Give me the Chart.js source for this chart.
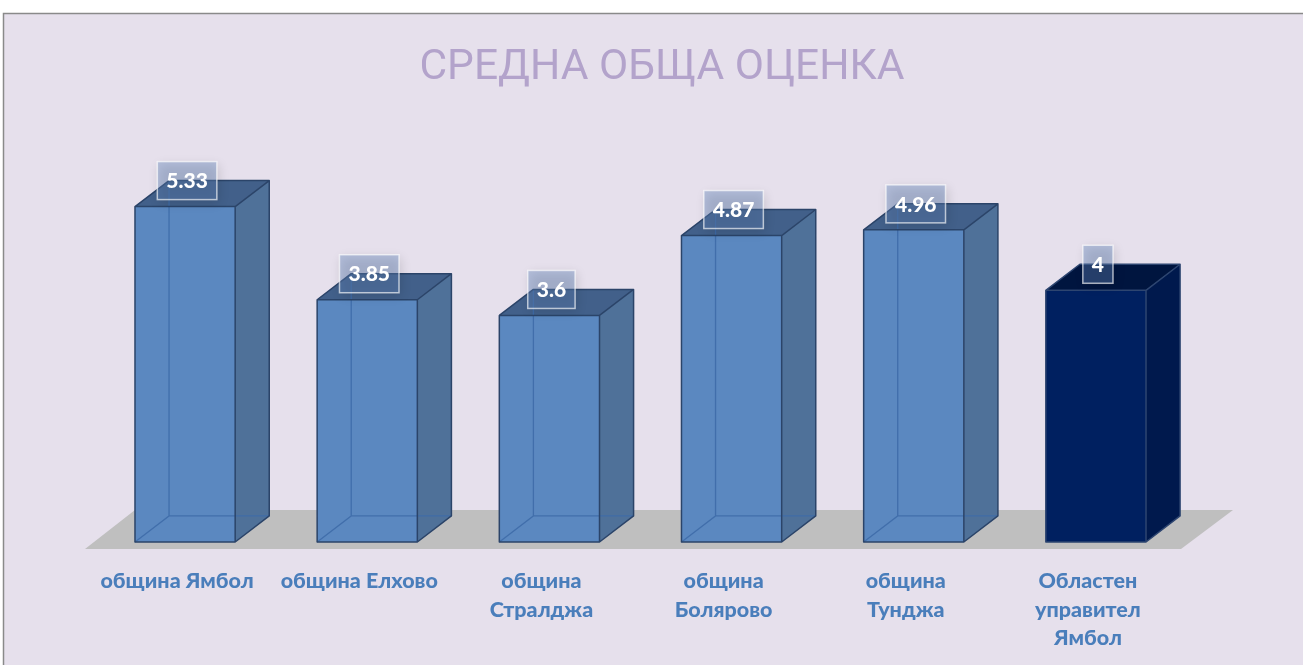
<!DOCTYPE html>
<html><head><meta charset="utf-8">
<script src="https://cdn.jsdelivr.net/npm/chart.js@4.4.1/dist/chart.umd.min.js"></script>
<style>html,body{margin:0;padding:0;background:#fff;overflow:hidden}</style>
</head><body><canvas id="c" width="1303" height="665"></canvas>
<script>
// ---- data ----
const categories = ["община Ямбол", "община Елхово", "община Стралджа", "община Болярово", "община Тунджа", "Областен управител Ямбол"];
const tickLabels = [["община Ямбол"], ["община Елхово"], ["община", "Стралджа"], ["община", "Болярово"], ["община", "Тунджа"], ["Областен", "управител", "Ямбол"]];
const values = [5.33, 3.85, 3.6, 4.87, 4.96, 4];
const valueLabels = ["5.33", "3.85", "3.6", "4.87", "4.96", "4"];
const titleText = "СРЕДНА ОБЩА ОЦЕНКА";

// ---- styles ----
const STD = {front: '#5B88C0', side: '#4F7199', top: '#42608A', edge: '#2B4469', hidden: 'rgba(62,108,168,0.9)'};
const HI  = {front: '#002060', side: '#00194D', top: '#00153F', edge: '#2D4570', hidden: null};
const HIGHLIGHT_INDEX = values.length - 1;
const style = i => i === HIGHLIGHT_INDEX ? HI : STD;

const bgPlugin = {
  id: 'bg',
  beforeDraw(chart) {
    const c = chart.ctx;
    c.save();
    c.fillStyle = '#ffffff';
    c.fillRect(0, 0, chart.width, chart.height);
    c.fillStyle = '#E6E0EC';
    c.fillRect(3, 13, chart.width - 3, chart.height - 13);
    c.strokeStyle = '#8A8A8A';
    c.lineWidth = 1.5;
    c.beginPath();
    c.moveTo(3.5, chart.height); c.lineTo(3.5, 13.5); c.lineTo(chart.width, 13.5);
    c.stroke();
    c.restore();
  },
  beforeDatasetsDraw(chart) {
    const c = chart.ctx, a = chart.chartArea;
    const base = chart.scales.y.getPixelForValue(0);
    c.save();
    c.fillStyle = '#BFBFBF';
    c.beginPath();
    c.moveTo(a.left - 9, base + 7);
    c.lineTo(a.right - 6, base + 7);
    c.lineTo(a.right + 46, base - 32);
    c.lineTo(a.left + 41, base - 32);
    c.closePath();
    c.fill();
    c.restore();
  }
};

const bar3d = {
  id: 'bar3d',
  afterDatasetsDraw(chart) {
    const c = chart.ctx;
    const meta = chart.getDatasetMeta(0);
    meta.data.forEach((bar, i) => {
      const {x, y, base, width} = bar.getProps(['x', 'y', 'base', 'width'], true);
      const s = style(i);
      const x0 = x - width / 2, x1 = x + width / 2;
      const dx = width * 0.34, dy = -width * 0.26;
      c.save();
      c.fillStyle = s.side;
      c.beginPath();
      c.moveTo(x1, base); c.lineTo(x1 + dx, base + dy); c.lineTo(x1 + dx, y + dy); c.lineTo(x1, y);
      c.closePath(); c.fill();
      c.fillStyle = s.top;
      c.beginPath();
      c.moveTo(x0, y); c.lineTo(x1, y); c.lineTo(x1 + dx, y + dy); c.lineTo(x0 + dx, y + dy);
      c.closePath(); c.fill();
      if (s.hidden) {
        c.strokeStyle = s.hidden; c.lineWidth = 1.3;
        c.beginPath();
        c.moveTo(x0, base); c.lineTo(x0 + dx, base + dy); c.lineTo(x1 + dx, base + dy);
        c.moveTo(x0 + dx, base + dy); c.lineTo(x0 + dx, y + dy);
        c.stroke();
      }
      c.strokeStyle = s.edge; c.lineWidth = 1.5; c.lineJoin = 'round';
      c.beginPath();
      c.rect(x0, y, width, base - y);
      c.moveTo(x0, y); c.lineTo(x0 + dx, y + dy); c.lineTo(x1 + dx, y + dy); c.lineTo(x1, y);
      c.moveTo(x1 + dx, y + dy); c.lineTo(x1 + dx, base + dy); c.lineTo(x1, base);
      c.stroke();
      c.restore();
    });
    meta.data.forEach((bar, i) => {
      const {x, y} = bar.getProps(['x', 'y'], true);
      const txt = valueLabels[i];
      c.save();
      c.font = '900 21px Lato';
      const tw = c.measureText(txt).width;
      const bw = tw + 18, bh = 38;
      const cx = x + 2, cy = y - 26;
      c.shadowColor = 'rgba(0,0,0,0.35)'; c.shadowBlur = 10; c.shadowOffsetX = 2; c.shadowOffsetY = 3;
      c.fillStyle = 'rgba(96,135,190,0.38)';
      c.fillRect(cx - bw / 2, cy - bh / 2, bw, bh);
      c.shadowColor = 'transparent';
      c.strokeStyle = 'rgba(255,255,255,0.65)'; c.lineWidth = 1.5;
      c.strokeRect(cx - bw / 2, cy - bh / 2, bw, bh);
      c.fillStyle = '#FFFFFF';
      c.textAlign = 'center'; c.textBaseline = 'middle';
      c.fillText(txt, cx, cy + 1);
      c.restore();
    });
  }
};

new Chart(document.getElementById('c'), {
  type: 'bar',
  data: {
    labels: tickLabels,
    datasets: [{
      label: 'Средна обща оценка',
      data: values,
      backgroundColor: values.map((v, i) => style(i).front),
      borderWidth: 0,
      barPercentage: 0.55,
      categoryPercentage: 1
    }]
  },
  options: {
    responsive: false,
    animation: false,
    devicePixelRatio: 1,
    layout: {padding: {left: 31, right: 10, top: 0, bottom: 0}},
    plugins: {
      legend: {display: false},
      tooltip: {enabled: false},
      title: {
        display: true, text: titleText, color: '#B3A3CB',
        font: {family: 'Roboto', size: 42.5, weight: 400, lineHeight: 1.2},
        padding: {top: 43, bottom: 7.5}
      }
    },
    scales: {
      x: {
        grid: {display: false, drawTicks: false}, border: {display: false},
        ticks: {color: '#4A7EBB', font: {family: 'Lato', size: 21.5, weight: 900, lineHeight: 1.33},
          padding: 25, labelOffset: -8, maxRotation: 0, autoSkip: false},
        afterFit(s) { s.height = 123; }
      },
      y: {
        min: 0, max: 7, display: true,
        grid: {display: false, drawTicks: false}, border: {display: false}, ticks: {display: false},
        afterFit(s) { s.width = 63; }
      },
      y2: {
        position: 'right', display: true, min: 0, max: 7,
        grid: {display: false, drawTicks: false}, border: {display: false}, ticks: {display: false},
        afterFit(s) { s.width = 106; }
      }
    }
  },
  plugins: [bgPlugin, bar3d]
});
</script>
</body></html>
